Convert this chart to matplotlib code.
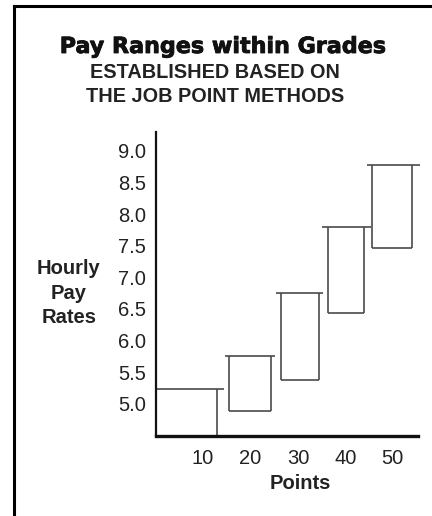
import matplotlib
matplotlib.use('Agg')
from matplotlib import pyplot as plt
from matplotlib import patheffects

plt.rcParams['font.family'] = ['Liberation Sans', 'DejaVu Sans']

# Диапазоны оплаты по грейдам
grade_points = [10, 20, 30, 40, 50]
box_left = [0.0, 15.5, 26.4, 36.4, 45.7]
box_right = [12.9, 24.3, 34.4, 44.0, 54.0]
cap_left = [0.0, 14.6, 25.4, 35.1, 44.5]
cap_right = [14.4, 25.2, 35.3, 45.3, 55.8]
pay_low = [4.49, 4.88, 5.38, 6.44, 7.47]
pay_high = [5.24, 5.75, 6.75, 7.79, 8.78]
y_ticks = [5.0, 5.5, 6.0, 6.5, 7.0, 7.5, 8.0, 8.5, 9.0]

W, H = 432, 516
fig = plt.figure(figsize=(W / 100, H / 100), dpi=100)

# Оси в пиксельных координатах
x0, x1 = 155.5, 418
y_top, y_bot = 132, 436
ax = fig.add_axes([x0 / W, (H - y_bot) / H, (x1 - x0) / W, (y_bot - y_top) / H])
ax.set_xlim(0, 55.3)
ax.set_ylim(4.49, 9.30)

line_color = '#4a4a4a'
for l, r, cl, cr, lo, hi in zip(box_left, box_right, cap_left, cap_right, pay_low, pay_high):
    ax.plot([l, l], [lo, hi], color=line_color, lw=1.2, solid_capstyle='butt')
    ax.plot([r, r], [lo, hi], color=line_color, lw=1.2, solid_capstyle='butt')
    ax.plot([l, r], [lo, lo], color=line_color, lw=1.2, solid_capstyle='butt')
    ax.plot([cl, cr], [hi, hi], color=line_color, lw=1.2, solid_capstyle='butt', clip_on=False)

for s in ['top', 'right']:
    ax.spines[s].set_visible(False)
ax.spines['left'].set_linewidth(1.6)
ax.spines['bottom'].set_linewidth(2.4)
ax.spines['left'].set_color('#111111')
ax.spines['bottom'].set_color('#111111')

ax.set_xticks(grade_points)
ax.set_yticks(y_ticks)
ax.set_yticklabels(['%.1f' % v for v in y_ticks])
ax.tick_params(length=0, labelsize=14.5, colors='#222222')
ax.tick_params(axis='y', pad=7)
ax.tick_params(axis='x', pad=9)

ax.set_ylabel('Hourly\nPay\nRates', rotation=0, fontsize=14.5, fontweight='bold',
              color='#222222', linespacing=1.35, ha='center', va='center')
ax.yaxis.set_label_coords(-0.33, 0.47)
ax.set_xlabel('Points', fontsize=14.5, fontweight='bold', color='#222222')
ax.xaxis.set_label_coords(0.55, -0.125)

# Заголовки
fig.text(223 / W, 1 - 47 / H, 'Pay Ranges within Grades', ha='center', va='center',
         fontsize=16, fontweight='bold', family=['DejaVu Sans'], color='#111111',
         path_effects=[patheffects.withStroke(linewidth=0.6, foreground='#111111')])
fig.text(215 / W, 1 - 73 / H, 'ESTABLISHED BASED ON', ha='center', va='center',
         fontsize=14.3, fontweight='bold', color='#222222')
fig.text(215 / W, 1 - 96 / H, 'THE JOB POINT METHODS', ha='center', va='center',
         fontsize=14.3, fontweight='bold', color='#222222')

# Рамка: сверху и слева
fig.add_artist(plt.Line2D([13.5 / W, 1], [1 - 6 / H, 1 - 6 / H], color='black', lw=2.2,
                          transform=fig.transFigure))
fig.add_artist(plt.Line2D([13.5 / W, 13.5 / W], [0, 1 - 6 / H], color='black', lw=2.2,
                          transform=fig.transFigure, solid_capstyle='projecting'))

fig.savefig('out.png', dpi=100)
